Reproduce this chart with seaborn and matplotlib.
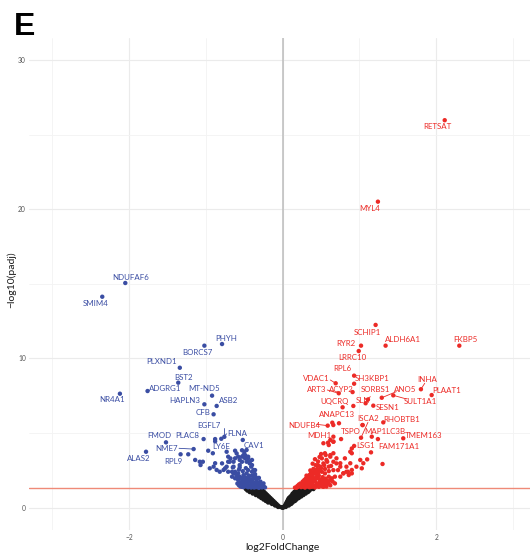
import math
import matplotlib
matplotlib.use("Agg")
import matplotlib.pyplot as plt
import pandas as pd
import seaborn as sns

# ---- labelled genes: log2 fold change and -log10(padj) ----
genes = ["NDUFAF6", "SMIM4", "PHYH", "BORCS7", "PLXND1", "BST2", "ADGRG1", "NR4A1",
         "MT-ND5", "HAPLN3", "ASB2", "CFB", "EGFL7", "FLNA", "PLAC8", "FMOD", "NME7",
         "LY6E", "CAV1", "ALAS2", "RPL9",
         "RETSAT", "MYL4", "SCHIP1", "ALDH6A1", "FKBP5", "RYR2", "LRRC10", "RPL6",
         "SH3KBP1", "VDAC1", "ART3", "ACYP2", "SORBS1", "ANO5", "INHA", "PLAAT1",
         "UQCRQ", "SLN", "SULT1A1", "SESN1", "ANAPC13", "ISCA2", "RHOBTB1", "NDUFB4",
         "MDH1", "TSPO", "MAP1LC3B", "TMEM163", "LSG1", "FAM171A1"]
gene_lfc = [-2.05, -2.35, -0.79, -1.02, -1.34, -1.36, -1.76, -2.12,
            -0.92, -1.02, -0.86, -0.90, -0.76, -0.80, -1.03, -1.52, -1.16,
            -0.97, -0.52, -1.78, -1.33,
            2.11, 1.24, 1.21, 1.34, 2.30, 1.02, 0.99, 0.93,
            0.93, 0.69, 0.73, 0.91, 1.08, 1.29, 1.80, 1.94,
            0.78, 1.11, 1.44, 1.18, 0.92, 1.04, 1.31, 0.586,
            0.66, 0.76, 1.02, 1.57, 0.93, 1.15]
gene_nlp = [15.06, 14.14, 10.97, 10.86, 9.38, 8.38, 7.82, 7.64,
            7.51, 6.93, 6.82, 6.26, 4.75, 4.62, 4.60, 4.38, 3.93,
            3.82, 4.54, 3.75, 3.58,
            25.97, 20.51, 12.25, 10.86, 10.86, 10.86, 10.50, 8.85,
            8.31, 8.34, 7.67, 7.75, 7.00, 7.37, 7.94, 7.55,
            6.73, 7.25, 7.53, 6.84, 6.82, 5.54, 5.72, 5.50,
            4.76, 4.60, 4.69, 4.65, 4.14, 3.71]

# ---- other significant down-regulated genes (lfc, -log10 padj) ----
down_pts = [(-1.14, 3.20), (-1.08, 3.08), (-1.04, 3.08), (-1.07, 2.86), (-0.95, 2.64),
            (-0.90, 2.75), (-0.88, 2.98), (-0.86, 2.53), (-0.82, 2.41), (-0.77, 2.53),
            (-0.73, 2.75), (-0.71, 3.08), (-0.71, 3.42), (-0.64, 3.08), (-0.64, 2.75),
            (-0.66, 2.41), (-0.62, 2.31), (-0.56, 2.86), (-0.56, 3.20), (-0.53, 3.42),
            (-0.49, 3.53), (-0.45, 3.31), (-0.43, 3.08), (-0.40, 2.86), (-0.38, 2.53),
            (-0.73, 3.75), (-0.62, 3.82), (-0.50, 3.75), (-1.23, 3.58), (-0.91, 3.65),
            (-0.88, 4.60), (-0.88, 4.45), (-0.79, 2.97), (-0.75, 2.64), (-0.69, 3.08),
            (-0.71, 2.41), (-0.64, 2.30), (-0.60, 3.64), (-0.62, 3.31), (-0.58, 3.42),
            (-0.51, 3.53), (-0.47, 3.87), (-0.49, 3.31), (-0.45, 3.42), (-0.40, 3.20),
            (-0.43, 2.97), (-0.47, 3.08), (-0.53, 3.08), (-0.66, 2.08), (-0.62, 2.41),
            (-0.58, 2.30), (-0.56, 2.08), (-0.51, 2.19), (-0.47, 2.30), (-0.45, 2.52),
            (-0.40, 2.41), (-0.36, 2.52), (-0.38, 2.08), (-0.34, 1.86), (-0.29, 1.75),
            (-0.25, 1.63), (-0.32, 1.52), (-0.40, 1.63), (-0.45, 1.86), (-0.49, 1.86),
            (-0.53, 1.75), (-0.58, 1.86), (-0.62, 1.97), (-0.49, 1.52), (-0.45, 1.52),
            (-0.38, 1.52), (-0.36, 1.41), (-0.27, 1.45), (-0.43, 1.41), (-0.53, 1.52),
            (-0.35, 1.70), (-0.42, 1.75), (-0.55, 2.00), (-0.50, 2.05), (-0.44, 2.15),
            (-0.38, 1.95), (-0.33, 1.60), (-0.30, 1.45), (-0.47, 1.60), (-0.52, 1.65),
            (-0.60, 2.15), (-0.57, 2.55), (-0.52, 2.45), (-0.48, 2.65), (-0.41, 2.75),
            (-0.56, 2.70), (-0.65, 2.70), (-0.68, 3.30), (-0.53, 3.85), (-0.41, 1.35),
            (-0.47, 1.42), (-0.34, 1.38), (-0.31, 1.33), (-0.51, 1.38), (-0.23, 1.36),
            (-0.25, 1.45), (-0.55, 1.42), (-0.29, 1.55), (-0.42, 1.90), (-0.36, 2.25),
            (-0.31, 2.00),
            (-0.27, 1.36), (-0.29, 1.42), (-0.33, 1.47), (-0.37, 1.35), (-0.39, 1.45),
            (-0.43, 1.50), (-0.45, 1.37), (-0.49, 1.45), (-0.53, 1.40), (-0.57, 1.50),
            (-0.59, 1.62), (-0.56, 1.70), (-0.50, 1.72), (-0.46, 1.68), (-0.40, 1.80),
            (-0.36, 1.62), (-0.31, 1.68), (-0.27, 1.58), (-0.44, 1.95), (-0.48, 2.00),
            (-0.53, 1.95), (-0.58, 2.05), (-0.40, 2.15), (-0.35, 2.05)]

# ---- other significant up-regulated genes ----
up_pts = [(0.62, 4.54), (0.66, 4.43), (0.60, 4.20), (0.56, 3.53), (0.51, 3.31),
          (0.58, 3.08), (0.62, 3.42), (0.66, 3.08), (0.70, 2.97), (0.72, 2.52),
          (0.66, 2.52), (0.60, 2.75), (0.53, 2.97), (0.49, 2.75), (0.44, 2.52),
          (0.42, 2.30), (0.38, 2.08), (0.36, 1.86), (0.31, 1.63), (0.29, 1.52),
          (0.27, 1.41), (0.46, 2.30), (0.51, 2.41), (0.55, 2.30), (0.60, 2.08),
          (0.64, 1.97), (0.68, 2.08), (0.53, 1.86), (0.46, 1.97), (0.42, 1.75),
          (0.38, 1.63), (0.49, 1.63), (0.57, 1.63), (0.44, 1.52), (0.36, 1.45),
          (0.51, 1.45), (0.33, 1.41), (0.42, 1.36), (0.75, 2.08), (0.79, 2.30),
          (0.83, 2.41), (0.86, 2.19), (0.90, 2.30), (0.88, 3.75), (0.90, 3.97),
          (0.68, 1.63), (0.75, 2.75), (0.81, 3.31), (0.83, 2.75),
          (0.53, 4.32), (0.59, 4.36), (0.66, 4.42), (0.55, 3.65), (0.62, 3.53),
          (0.66, 3.65), (0.70, 3.31), (0.75, 2.98), (0.79, 2.31), (0.85, 2.41),
          (0.90, 2.53), (0.88, 2.98), (0.90, 3.65), (0.96, 2.75), (1.01, 3.20),
          (1.03, 2.64), (1.05, 2.98), (1.10, 3.24), (1.30, 2.93),
          (1.16, 4.76), (1.24, 4.60), (0.646, 5.70), (0.659, 5.54), (0.733, 5.66),
          (1.04, 5.54),
          (0.18, 1.34), (0.20, 1.40), (0.22, 1.47), (0.24, 1.38), (0.25, 1.55),
          (0.27, 1.62), (0.30, 1.75), (0.32, 1.90), (0.34, 2.00), (0.35, 2.20),
          (0.37, 2.35), (0.40, 2.60), (0.43, 2.85), (0.46, 3.10), (0.48, 3.40),
          (0.50, 3.60), (0.45, 2.20), (0.40, 1.50), (0.47, 1.40), (0.52, 1.70),
          (0.55, 1.55), (0.58, 1.80), (0.62, 1.50), (0.65, 1.75), (0.55, 2.60),
          (0.60, 2.45), (0.63, 2.80), (0.57, 3.20), (0.52, 2.05), (0.45, 2.60),
          (0.40, 2.00), (0.29, 1.35), (0.35, 1.37), (0.38, 1.80), (0.33, 1.70),
          (0.28, 1.85), (0.31, 2.15), (0.36, 2.50), (0.39, 2.95), (0.42, 3.25),
          (0.48, 2.45), (0.44, 2.05), (0.50, 1.90), (0.26, 1.75),
          (0.16, 1.35), (0.19, 1.45), (0.21, 1.55), (0.23, 1.62), (0.26, 1.45),
          (0.31, 1.47), (0.34, 1.55), (0.38, 1.40), (0.43, 1.45), (0.45, 1.62),
          (0.48, 1.52), (0.53, 1.40), (0.57, 1.42), (0.60, 1.62), (0.56, 1.72),
          (0.48, 1.75), (0.42, 1.90), (0.36, 1.68), (0.30, 1.95), (0.34, 2.10),
          (0.39, 2.20), (0.47, 2.15), (0.56, 1.95), (0.62, 1.85), (0.29, 1.55),
          (0.24, 1.50), (0.41, 2.45), (0.50, 2.65), (0.54, 2.85), (0.46, 2.85)]

# ---- non-significant genes (padj > 0.05) ----
ns_pts = [(0.00, 0.00), (-0.01, 0.02), (0.01, 0.02),
          (-0.03, 0.05), (-0.06, 0.05),
          (-0.06, 0.15), (-0.08, 0.15), (-0.10, 0.15),
          (-0.08, 0.25), (-0.11, 0.25), (-0.14, 0.25),
          (-0.10, 0.35), (-0.13, 0.35), (-0.16, 0.35), (-0.19, 0.35),
          (-0.12, 0.45), (-0.15, 0.45), (-0.18, 0.45), (-0.22, 0.45),
          (-0.14, 0.55), (-0.17, 0.55), (-0.20, 0.55), (-0.23, 0.55), (-0.25, 0.55),
          (-0.16, 0.65), (-0.19, 0.65), (-0.22, 0.65), (-0.25, 0.65), (-0.28, 0.65),
          (-0.18, 0.75), (-0.21, 0.75), (-0.24, 0.75), (-0.27, 0.75), (-0.31, 0.75),
          (-0.20, 0.85), (-0.23, 0.85), (-0.27, 0.85), (-0.31, 0.85), (-0.35, 0.85),
          (-0.22, 0.95), (-0.26, 0.95), (-0.30, 0.95), (-0.34, 0.95), (-0.39, 0.95),
          (-0.24, 1.05), (-0.28, 1.05), (-0.32, 1.05), (-0.36, 1.05), (-0.40, 1.05), (-0.43, 1.05),
          (-0.26, 1.15), (-0.30, 1.15), (-0.34, 1.15), (-0.38, 1.15), (-0.42, 1.15), (-0.46, 1.15),
          (-0.28, 1.25), (-0.32, 1.25), (-0.36, 1.25), (-0.40, 1.25), (-0.44, 1.25), (-0.48, 1.25),
          (0.01, 0.05), (0.04, 0.05),
          (0.03, 0.15), (0.06, 0.15), (0.08, 0.15),
          (0.04, 0.25), (0.07, 0.25), (0.11, 0.25),
          (0.05, 0.35), (0.09, 0.35), (0.13, 0.35),
          (0.06, 0.45), (0.10, 0.45), (0.13, 0.45), (0.16, 0.45),
          (0.07, 0.55), (0.11, 0.55), (0.15, 0.55), (0.18, 0.55),
          (0.08, 0.65), (0.12, 0.65), (0.16, 0.65), (0.21, 0.65),
          (0.10, 0.75), (0.14, 0.75), (0.19, 0.75), (0.24, 0.75),
          (0.12, 0.85), (0.16, 0.85), (0.20, 0.85), (0.24, 0.85), (0.27, 0.85),
          (0.13, 0.95), (0.17, 0.95), (0.21, 0.95), (0.25, 0.95), (0.30, 0.95),
          (0.15, 1.05), (0.19, 1.05), (0.23, 1.05), (0.28, 1.05), (0.33, 1.05),
          (0.17, 1.15), (0.21, 1.15), (0.25, 1.15), (0.30, 1.15), (0.35, 1.15),
          (0.18, 1.25), (0.22, 1.25), (0.26, 1.25), (0.31, 1.25), (0.36, 1.25), (0.40, 1.25)]

x_ticks = [-2, 0, 2]
y_ticks = [0, 10, 20, 30]
padj_cutoff = 0.05

# ---- label placement (text centre) and leader-line starts ----
label_pos = {
    "NDUFAF6": (-1.98, 15.42), "SMIM4": (-2.44, 13.70), "PHYH": (-0.73, 11.35),
    "BORCS7": (-1.11, 10.42), "PLXND1": (-1.58, 9.79), "BST2": (-1.29, 8.74),
    "ADGRG1": (-1.53, 7.96), "NR4A1": (-2.22, 7.22), "MT-ND5": (-1.02, 7.96),
    "HAPLN3": (-1.27, 7.17), "ASB2": (-0.71, 7.17), "CFB": (-1.04, 6.37),
    "EGFL7": (-0.96, 5.54), "FLNA": (-0.59, 4.99), "FMOD": (-1.61, 4.81),
    "PLAC8": (-1.24, 4.81), "NME7": (-1.51, 3.96), "LY6E": (-0.80, 4.09),
    "CAV1": (-0.37, 4.18), "ALAS2": (-1.87, 3.28), "RPL9": (-1.42, 3.13),
    "RETSAT": (2.01, 25.54), "MYL4": (1.13, 20.07), "SCHIP1": (1.10, 11.76),
    "ALDH6A1": (1.56, 11.24), "FKBP5": (2.38, 11.24), "RYR2": (0.82, 11.02),
    "LRRC10": (0.91, 10.06), "RPL6": (0.77, 9.30), "SH3KBP1": (1.17, 8.65),
    "VDAC1": (0.44, 8.65), "ART3": (0.44, 7.89), "ACYP2": (0.77, 7.94),
    "SORBS1": (1.21, 7.94), "ANO5": (1.59, 7.89), "INHA": (1.88, 8.60),
    "PLAAT1": (2.14, 7.84), "UQCRQ": (0.68, 7.15), "SLN": (1.04, 7.17),
    "SULT1A1": (1.79, 7.15), "SESN1": (1.37, 6.73), "ANAPC13": (0.71, 6.26),
    "ISCA2": (1.11, 5.99), "RHOBTB1": (1.55, 5.92), "NDUFB4": (0.28, 5.54),
    "MDH1": (0.48, 4.81), "TSPO": (0.88, 5.09), "MAP1LC3B": (1.33, 5.14),
    "TMEM163": (1.84, 4.83), "LSG1": (1.08, 4.16), "FAM171A1": (1.51, 4.09),
}
leader_start = {
    "NME7": (-1.35, 3.98), "EGFL7": (-0.76, 5.36), "FLNA": (-0.73, 4.95),
    "VDAC1": (0.62, 8.56), "ART3": (0.58, 7.89), "SORBS1": (1.14, 7.45),
    "ANO5": (1.48, 7.78), "SULT1A1": (1.61, 7.29), "INHA": (1.85, 8.34),
    "NDUFB4": (0.44, 5.59), "MAP1LC3B": (1.11, 5.72),
}

BLUE = "#3A4DA3"
RED = "#EC2A26"
BLACK = "#1A1A1A"

frames = [
    pd.DataFrame({"lfc": [p[0] for p in ns_pts], "nlp": [p[1] for p in ns_pts], "group": "ns"}),
    pd.DataFrame({"lfc": [p[0] for p in down_pts], "nlp": [p[1] for p in down_pts], "group": "down"}),
    pd.DataFrame({"lfc": [p[0] for p in up_pts], "nlp": [p[1] for p in up_pts], "group": "up"}),
    pd.DataFrame({"lfc": gene_lfc, "nlp": gene_nlp,
                  "group": ["up" if v > 0 else "down" for v in gene_lfc]}),
]
df = pd.concat(frames, ignore_index=True)

sns.set_theme(style="white")
plt.rcParams["font.family"] = ["Lato", "DejaVu Sans"]

fig = plt.figure(figsize=(5.30, 5.56), dpi=100)
fig.patch.set_facecolor("white")
ax = fig.add_axes([0.0553, 0.0466, 0.9562, 0.8856])
ax.set_facecolor("white")

ax.set_xlim(-3.3, 3.3)
ax.set_ylim(-1.5, 31.5)
ax.set_xticks(x_ticks)
ax.set_xticks([-3, -1, 1, 3], minor=True)
ax.set_yticks(y_ticks)
ax.set_yticks([5, 15, 25], minor=True)
ax.grid(True, which="major", color="#EBEBEB", linewidth=0.8)
ax.grid(True, which="minor", color="#F3F3F3", linewidth=0.6)
ax.set_axisbelow(True)
for s in ax.spines.values():
    s.set_visible(False)
ax.tick_params(which="both", length=0, labelsize=4.8, labelcolor="#555555", pad=2.5)
ax.set_xticklabels(["\u22122", "0", "2"])

ax.axvline(0, color="#BDBDBD", linewidth=1.1, zorder=1)
ax.axhline(-math.log10(padj_cutoff), color="#EF8A78", linewidth=1.0, zorder=1)

sns.scatterplot(data=df, x="lfc", y="nlp", hue="group",
                hue_order=["ns", "down", "up"],
                palette={"ns": BLACK, "down": BLUE, "up": RED},
                s=10, linewidth=0, legend=False, ax=ax, zorder=3)
ax.set_xlabel("")
ax.set_ylabel("")

for g, x, y in zip(genes, gene_lfc, gene_nlp):
    col = RED if x > 0 else BLUE
    tx, ty = label_pos[g]
    ax.text(tx, ty, g, color=col, fontsize=5.7, ha="center", va="center", zorder=4)
    if g in leader_start:
        sx, sy = leader_start[g]
        ax.plot([sx, x], [sy, y], color=col, linewidth=0.6, zorder=3)

fig.text(282.7 / 530, 1 - 548 / 556, "log2FoldChange", ha="center", va="center",
         fontsize=7.5, color="#1A1A1A")
fig.text(11.7 / 530, 1 - 280 / 556, "\u2212log10(padj)", ha="center", va="center",
         rotation=90, fontsize=7.5, color="#1A1A1A")
fig.text(14 / 530, 1 - 35 / 556, "E", ha="left", va="baseline", fontsize=23,
         fontweight="bold", family=["Liberation Sans", "DejaVu Sans"], color="black")

fig.savefig("out.png", dpi=100, facecolor="white")
